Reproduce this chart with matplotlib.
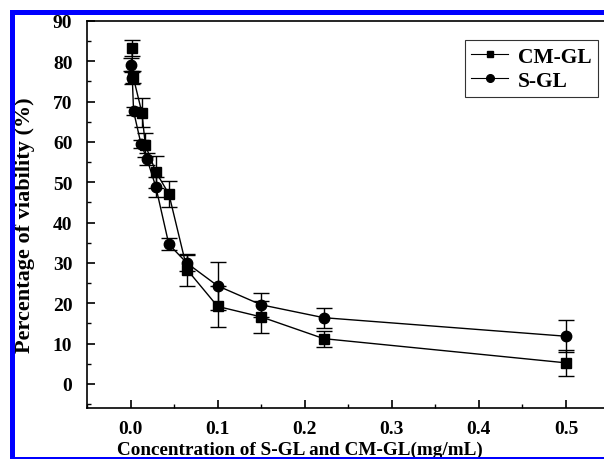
import matplotlib
matplotlib.use("Agg")
import matplotlib.pyplot as plt
from matplotlib.ticker import MultipleLocator, FormatStrFormatter
from matplotlib.patches import Rectangle
from matplotlib.lines import Line2D

plt.rcParams['font.family'] = ['Liberation Serif', 'DejaVu Serif']
plt.rcParams['font.weight'] = 'bold'

# CM-GL (squares)
cm_x = [0.0015, 0.003, 0.013, 0.017, 0.029, 0.044, 0.065, 0.1, 0.15, 0.222, 0.5]
cm_y = [83.2, 76.2, 67.3, 59.2, 52.6, 47.1, 28.3, 19.2, 16.6, 11.2, 5.2]
cm_e = [2.0, 1.5, 3.5, 3.0, 4.0, 3.3, 4.0, 5.0, 4.0, 2.0, 3.2]

# S-GL (circles)
s_x = [0.001, 0.002, 0.0035, 0.012, 0.019, 0.029, 0.044, 0.065, 0.1, 0.15, 0.222, 0.5]
s_y = [79.2, 75.9, 67.6, 59.5, 55.7, 48.9, 34.6, 29.9, 24.3, 19.6, 16.4, 11.8]
s_e = [1.5, 1.5, 1.0, 1.0, 1.5, 2.5, 1.5, 2.0, 6.0, 3.0, 2.5, 4.0]

W, H = 604, 460
fig = plt.figure(figsize=(W / 100, H / 100), dpi=100)
ax_l, ax_r, ax_t, ax_b = 87, 609.5, 22, 409
ax = fig.add_axes([ax_l / W, 1 - ax_b / H, (ax_r - ax_l) / W, (ax_b - ax_t) / H])

ax.errorbar(cm_x, cm_y, yerr=cm_e, color='black', marker='s', markersize=6.5,
            linewidth=1.0, elinewidth=1.0, capsize=6, capthick=1.0)
ax.errorbar(s_x, s_y, yerr=s_e, color='black', marker='o', markersize=7.5,
            linewidth=1.0, elinewidth=1.0, capsize=6, capthick=1.0)

ax.set_xlim(-0.05, 0.55)
ax.set_ylim(-6, 90)
ax.xaxis.set_major_locator(MultipleLocator(0.1))
ax.xaxis.set_minor_locator(MultipleLocator(0.05))
ax.xaxis.set_major_formatter(FormatStrFormatter('%.1f'))
ax.yaxis.set_major_locator(MultipleLocator(10))
ax.yaxis.set_minor_locator(MultipleLocator(5))
ax.tick_params(which='major', direction='in', length=6, width=1.2, labelsize=14)
ax.tick_params(which='minor', direction='in', length=3, width=1.0)
ax.tick_params(axis='y', pad=10.5)
ax.tick_params(axis='x', pad=8.5)
for lab in ax.get_xticklabels() + ax.get_yticklabels():
    lab.set_fontweight('bold')

for sp in ax.spines.values():
    sp.set_linewidth(1.2)

def fx(px):
    return (px - ax_l) / (ax_r - ax_l)

def fy(py):
    return (ax_b - py) / (ax_b - ax_t)

ax.text(fx(300), fy(455), 'Concentration of S-GL and CM-GL(mg/mL)', transform=ax.transAxes,
        ha='center', va='baseline', fontsize=13.8, fontweight='bold', clip_on=False)
ax.text(fx(25), fy(225), 'Percentage of viability (%)', transform=ax.transAxes,
        ha='center', va='center', rotation=90, fontsize=16, fontweight='bold', clip_on=False)

handles = [Line2D([], [], color='black', marker='s', markersize=5, linewidth=0.8),
           Line2D([], [], color='black', marker='o', markersize=5.5, linewidth=0.8)]
leg = ax.legend(handles, ['CM-GL', 'S-GL'], loc='upper left',
                bbox_to_anchor=(fx(465), fy(41)),
                frameon=True, fancybox=False, edgecolor='black',
                prop={'weight': 'bold', 'size': 15.5}, handlelength=1.7,
                handletextpad=0.45, borderpad=0.3, labelspacing=0.2,
                borderaxespad=0)
leg.get_frame().set_linewidth(0.8)

# Cropped-frame look: white outside, blue border lines
fig.patches.append(Rectangle((0, 1 - 16 / H), 1, 16 / H, transform=fig.transFigure,
                             facecolor='white', edgecolor='none', zorder=10))
fig.patches.append(Rectangle((0, 0), 10 / W, 1, transform=fig.transFigure,
                             facecolor='white', edgecolor='none', zorder=10))
fig.patches.append(Rectangle((10 / W, 0), 5 / W, 1 - 11 / H,
                             transform=fig.transFigure, facecolor='#0000ff',
                             edgecolor='none', zorder=11))
fig.patches.append(Rectangle((10 / W, 1 - 16 / H), 1 - 10 / W, 5 / H,
                             transform=fig.transFigure, facecolor='#0000ff',
                             edgecolor='none', zorder=11))
fig.patches.append(Rectangle((10 / W, 0), 1 - 10 / W, 2 / H,
                             transform=fig.transFigure, facecolor='#0000ff',
                             edgecolor='none', zorder=11))

fig.savefig('out.png', dpi=100)
